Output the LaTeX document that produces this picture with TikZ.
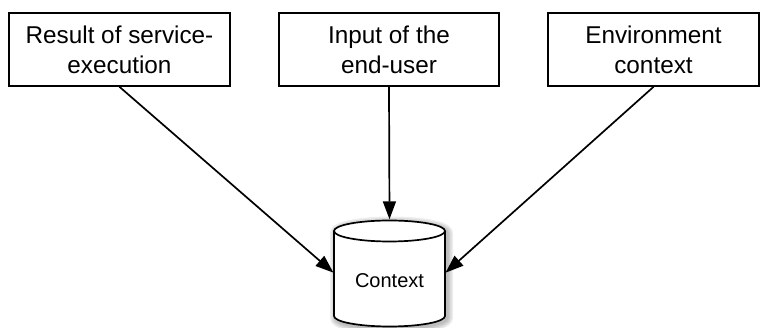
\documentclass[tikz,border=0pt]{standalone}
\usepackage{fontspec}
\setmainfont{Liberation Sans}
\usetikzlibrary{arrows.meta}
\begin{document}
\begin{tikzpicture}[x=1pt,y=-1pt,
  srcbox/.style={draw=black, line width=1.7pt, fill=white, minimum height=73pt,
    inner sep=0pt, align=center, font=\fontsize{24.3}{30}\selectfont},
  conn/.style={line width=1.7pt, -{Triangle[length=18pt,width=13pt]}, shorten >=0.5pt},
  cylline/.style={line width=1.7pt, draw=black}
]
\useasboundingbox (0,0) rectangle (760,328);

% source boxes
\node[srcbox, minimum width=221pt] (b1) at (119.5,49.5) {Result of service-\\execution};
\node[srcbox, minimum width=220pt] (b2) at (389,49.5) {Input of the\\end-user};
\node[srcbox, minimum width=211pt] (b3) at (653.5,49.5) {Environment\\context};

% cylinder shadow (soft glow)
\foreach \w in {12,9,6,3}{
  \draw[line width=\w pt, black, opacity=0.07, line join=round]
    (336,233) -- (336,318) arc[start angle=180, end angle=360, x radius=55.5, y radius=-10.5]
    -- (447,233) arc[start angle=0, end angle=180, x radius=55.5, y radius=-10.5] -- cycle;
}
% cylinder body
\fill[white] (334,231) -- (334,316) arc[start angle=180, end angle=360, x radius=55.5, y radius=-10.5]
  -- (445,231) arc[start angle=0, end angle=180, x radius=55.5, y radius=-10.5] -- cycle;
\draw[cylline] (334,231) -- (334,316) arc[start angle=180, end angle=360, x radius=55.5, y radius=-10.5]
  -- (445,231);
\draw[cylline] (389.5,231) ellipse[x radius=55.5, y radius=10.5];
\node[minimum width=111pt, minimum height=106pt, inner sep=0pt] (cyl) at (389.5,273) {};
\node[font=\fontsize{20}{24}\selectfont] (ctx) at (389.5,281) {Context};

% connectors
\draw[conn] (b1.south) -- (cyl.west);
\draw[conn] (b2.south) -- (cyl.north);
\draw[conn] (b3.south) -- (cyl.east);
\end{tikzpicture}
\end{document}
